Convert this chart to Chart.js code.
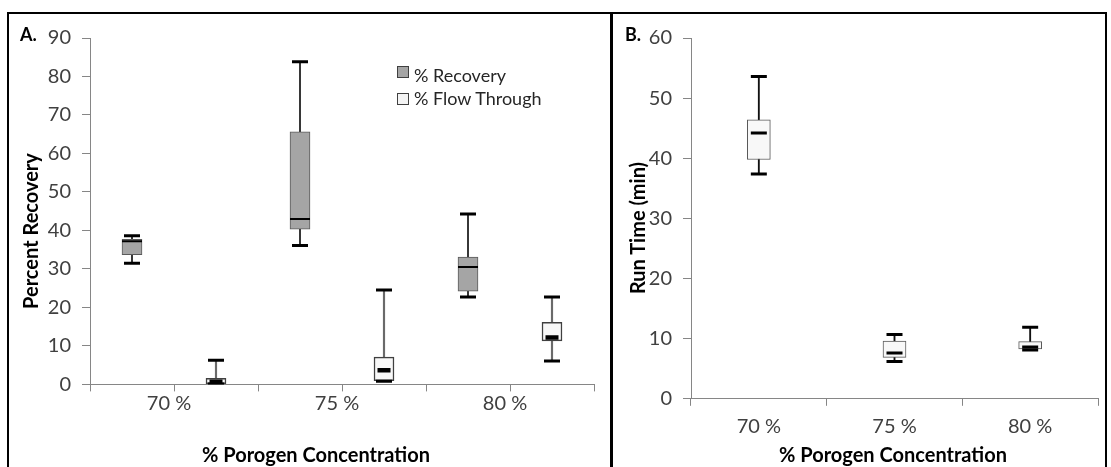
<!DOCTYPE html>
<html>
<head>
<meta charset="utf-8">
<script src="https://cdn.jsdelivr.net/npm/chart.js@4.4.0/dist/chart.umd.min.js"></script>
<style>
html,body{margin:0;padding:0;background:#fff;width:1111px;height:467px;overflow:hidden;font-family:Lato,"DejaVu Sans",sans-serif;}
#frame{position:absolute;left:7px;top:12px;width:1100px;height:480px;border:2px solid #000;box-sizing:border-box;}
#divider{position:absolute;left:610px;top:12px;width:2.5px;height:470px;background:#000;}
canvas{position:absolute;}
.t{position:absolute;white-space:nowrap;line-height:1;color:#000;}
.b{font-weight:bold;}
.rot{transform:translate(-50%,-50%) rotate(-90deg);}
.ctr{transform:translateX(-50%);}
.sq{position:absolute;width:12px;height:12px;box-sizing:border-box;border:1px solid #404040;}
</style>
</head>
<body>
<div id="frame"></div>
<div id="divider"></div>
<canvas id="cA" width="598" height="452" style="left:10px;top:15px;"></canvas>
<canvas id="cB" width="495" height="452" style="left:614px;top:15px;"></canvas>

<div class="t b" style="left:20px;top:25px;font-size:18px;">A.</div>
<div class="t b" style="left:625px;top:25px;font-size:18px;">B.</div>
<div class="t b rot" style="left:30px;top:231px;font-size:20px;">Percent Recovery</div>
<div class="t b rot" style="left:637px;top:228px;font-size:20px;">Run Time (min)</div>
<div class="t b ctr" style="left:316px;top:444px;font-size:20px;">% Porogen Concentration</div>
<div class="t b ctr" style="left:893px;top:444px;font-size:20px;">% Porogen Concentration</div>

<div class="sq" style="left:397px;top:66px;background:#a5a5a5;"></div>
<div class="t" style="left:414px;top:65.5px;font-size:18px;color:#262626;">% Recovery</div>
<div class="sq" style="left:397px;top:93px;background:#f4f4f4;"></div>
<div class="t" style="left:414px;top:88.5px;font-size:18px;color:#262626;">% Flow Through</div>

<script>
// ---------- data ----------
const categories = ['70 %', '75 %', '80 %'];

// Panel A: % Recovery
const recMin = [31.5, 36.1, 22.7];
const recQ1  = [33.7, 40.3, 24.2];
const recMed = [37.2, 43.0, 30.5];
const recQ3  = [37.7, 65.6, 33.1];
const recMax = [38.6, 83.8, 44.3];

// Panel A: % Flow Through
const flowMin = [0.1, 0.8, 6.1];
const flowQ1  = [0.2, 1.0, 11.3];
const flowMed = [0.7, 3.7, 12.2];
const flowQ3  = [1.6, 7.1, 16.1];
const flowMax = [6.3, 24.5, 22.7];

// Panel B: Run Time (min)
const rtMin = [37.4, 6.2, 8.1];
const rtQ1  = [39.8, 6.9, 8.3];
const rtMed = [44.2, 7.6, 8.6];
const rtQ3  = [46.4, 9.6, 9.5];
const rtMax = [53.6, 10.7, 11.9];

const yMaxA = 90, yMaxB = 60, yStep = 10;

// ---------- helpers ----------
Chart.defaults.font.family = 'Lato, "DejaVu Sans", sans-serif';
Chart.defaults.animation = false;
const AXIS = '#868686', TXT = '#404040';

// each concentration spans two slots on panel A: slot 0 = recovery, slot 1 = flow through
const slotX = (i, s) => 2 * i + s + 0.5;
const pts = (vals, s) => vals.map((v, i) => ({x: slotX(i, s), y: v}));
const rng = (lo, hi, s) => lo.map((v, i) => ({x: slotX(i, s), y: [v, hi[i]]}));

const barDS = (data, thick, bg, border, bw, order) => ({
  type: 'bar', data, barThickness: thick, backgroundColor: bg,
  borderColor: border, borderWidth: bw, borderSkipped: false, grouped: false, order
});
const markDS = (data, radius, width, order) => ({
  type: 'line', data, showLine: false, pointStyle: 'line', pointRadius: radius,
  pointHoverRadius: radius, borderColor: '#000', pointBorderColor: '#000',
  pointBorderWidth: width, borderWidth: width, order
});

const yAxis = (max, width) => ({
  min: 0, max,
  ticks: {stepSize: yStep, color: TXT, font: {size: 20}, padding: 11},
  grid: {display: true, drawOnChartArea: false, tickLength: 8, color: AXIS},
  border: {color: AXIS, width: 1},
  afterFit: s => { s.width = width; }
});

// ---------- Panel A ----------
new Chart(document.getElementById('cA'), {
  type: 'bar',
  data: {
    datasets: [
      barDS(rng(recMin, recMax, 0), 1.3, '#333333', '#333333', 0, 10),
      barDS(rng(flowMin, flowMax, 1), 1.5, '#6a6a6a', '#6a6a6a', 0, 10),
      barDS(rng(recQ1, recQ3, 0), 20, '#a5a5a5', '#5a5a5a', 1, 5),
      barDS(rng(flowQ1, flowQ3, 1), 20, '#f8f8f8', '#404040', 1.5, 5),
      markDS(pts(recMin, 0).concat(pts(recMax, 0), pts(flowMin, 1), pts(flowMax, 1)), 8, 3, 1),
      markDS(pts(recMed, 0), 10, 2, 1),
      markDS(pts(flowMed, 1), 6.5, 4.5, 1)
    ]
  },
  options: {
    responsive: false, devicePixelRatio: 1, events: [],
    layout: {padding: {top: 22, right: 14, left: 0, bottom: 0}},
    plugins: {legend: {display: false}, tooltip: {enabled: false}},
    scales: {
      x: {
        type: 'linear', min: 0, max: 2 * categories.length, offset: false,
        ticks: {
          stepSize: 1, autoSkip: false, maxRotation: 0, color: TXT, font: {size: 20}, padding: 0,
          labelOffset: -5,
          callback: v => (v % 2 === 1 ? categories[(v - 1) / 2] : '')
        },
        grid: {display: true, drawOnChartArea: false, tickLength: 7, color: AXIS, offset: false},
        border: {color: AXIS, width: 1},
        afterFit: s => { s.height = 82.6; }
      },
      y: yAxis(yMaxA, 80)
    }
  }
});

// ---------- Panel B ----------
const arr = (lo, hi) => lo.map((v, i) => [v, hi[i]]);
new Chart(document.getElementById('cB'), {
  type: 'bar',
  data: {
    labels: categories,
    datasets: [
      barDS(arr(rtMin, rtMax), 1.2, '#111111', '#111111', 0, 10),
      barDS(arr(rtQ1, rtQ3), 23, '#f8f8f8', '#595959', 1, 5),
      markDS(rtMin, 8, 3, 1),
      markDS(rtMax, 8, 3, 1),
      markDS(rtMed, 8, 3, 1)
    ]
  },
  options: {
    responsive: false, devicePixelRatio: 1, events: [],
    layout: {padding: {top: 22, right: 1, left: 0, bottom: 0}},
    plugins: {legend: {display: false}, tooltip: {enabled: false}},
    scales: {
      x: {
        type: 'category', offset: true,
        ticks: {color: TXT, font: {size: 20}, padding: 9, maxRotation: 0},
        grid: {display: true, drawOnChartArea: false, tickLength: 7, color: AXIS, offset: true},
        border: {color: AXIS, width: 1},
        afterFit: s => { s.height = 68.2; }
      },
      y: yAxis(yMaxB, 77)
    }
  }
});
</script>
</body>
</html>
